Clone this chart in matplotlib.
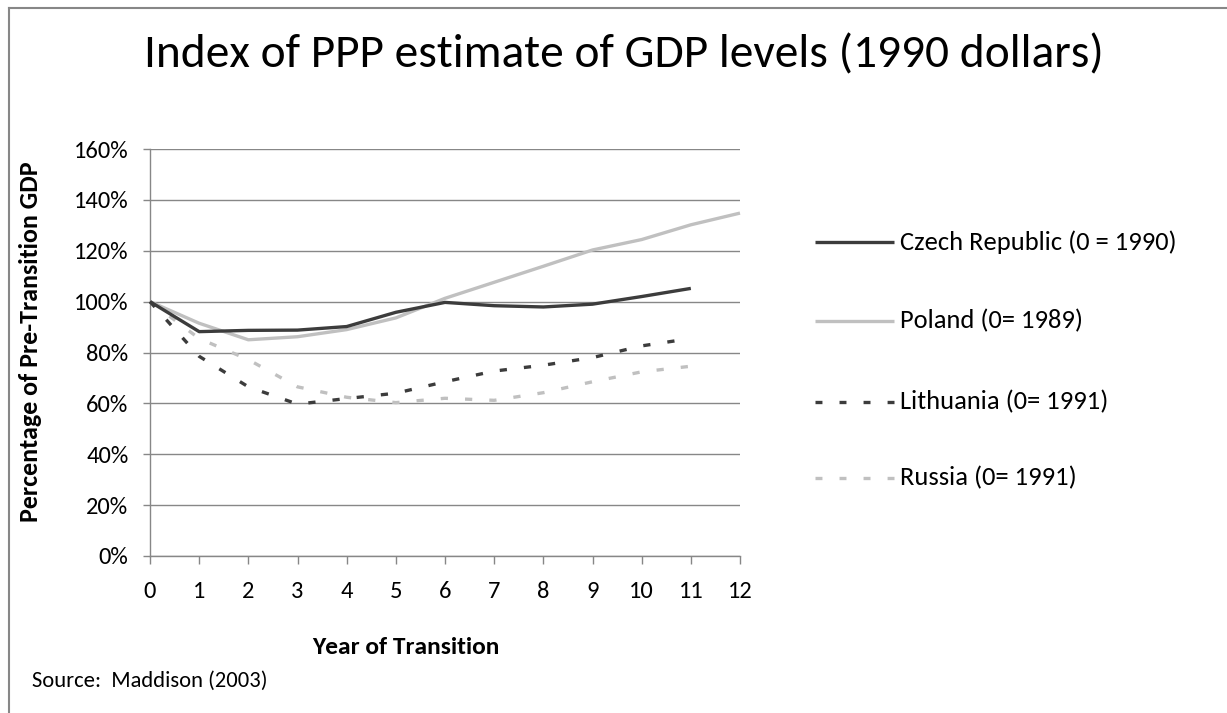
import matplotlib
matplotlib.use('Agg')
import matplotlib.pyplot as plt
from matplotlib import font_manager
from matplotlib.lines import Line2D
from matplotlib.ticker import FuncFormatter

# ---------------- data ----------------
years_czech = list(range(0, 12))
czech = [100, 88.2, 88.7, 88.8, 90.2, 95.8, 99.7, 98.4, 97.9, 99.0, 102.0, 105.2]

years_poland = list(range(0, 13))
poland = [100, 91.5, 85.0, 86.2, 89.0, 93.6, 101.3, 107.6, 113.9, 120.3, 124.4, 130.2, 134.8]

years_lith = list(range(0, 12))
lithuania = [100, 78.5, 66.5, 59.7, 61.9, 64.0, 68.5, 72.7, 75.0, 78.0, 82.6, 85.5]

years_russia = list(range(0, 12))
russia = [100, 85.5, 77.2, 66.5, 62.4, 60.3, 62.0, 61.2, 64.2, 68.5, 72.4, 74.6]

labels = ["Czech Republic (0 = 1990)", "Poland (0= 1989)",
          "Lithuania (0= 1991)", "Russia (0= 1991)"]
x_ticks = list(range(0, 13))
y_ticks = list(range(0, 161, 20))

title = "Index of PPP estimate of GDP levels (1990 dollars)"
xlabel = "Year of Transition"
ylabel = "Percentage of Pre-Transition GDP"
source = "Source:  Maddison (2003)"

# ---------------- style ----------------
DARK = '#3c3c3c'
LIGHT = '#c0c0c0'
GRID = '#878787'

avail = {f.name for f in font_manager.fontManager.ttflist}
FONT = 'Carlito' if 'Carlito' in avail else 'Lato'
plt.rcParams['font.family'] = [FONT, 'DejaVu Sans']
plt.rcParams['lines.scale_dashes'] = False

W, H = 1227, 713
fig = plt.figure(figsize=(W / 100, H / 100), dpi=100)
renderer = fig.canvas.get_renderer()


def fx(x):
    return x / W


def fy(y):
    return 1 - y / H


def fit_size(s, target_w, weight='normal', base=20.0):
    t = fig.text(0, 0, s, fontsize=base, fontweight=weight)
    w = t.get_window_extent(renderer).width
    t.remove()
    return base * target_w / w


# plot area: x 150..740 px, y 149..556 px
ax = fig.add_axes([fx(150), fy(556), (740 - 150) / W, (556 - 149) / H])
ax.set_xlim(0, 12)
ax.set_ylim(0, 160)

lw = 2.4
dash = (0, (5.2, 12.3))
ax.plot(years_czech, czech, color=DARK, lw=lw, solid_capstyle='butt', clip_on=False, zorder=4)
ax.plot(years_poland, poland, color=LIGHT, lw=lw, solid_capstyle='butt', clip_on=False, zorder=3)
ax.plot(years_lith, lithuania, color=DARK, lw=lw, linestyle=dash, dash_capstyle='butt', clip_on=False, zorder=4)
ax.plot(years_russia, russia, color=LIGHT, lw=lw, linestyle=dash, dash_capstyle='butt', clip_on=False, zorder=3)

ax.set_xticks(x_ticks)
ax.set_yticks(y_ticks)
ax.yaxis.set_major_formatter(FuncFormatter(lambda v, p: f"{v:.0f}%"))
ax.grid(axis='y', color=GRID, lw=1.0)
ax.set_axisbelow(True)
for s in ['top', 'right']:
    ax.spines[s].set_visible(False)
for s in ['left', 'bottom']:
    ax.spines[s].set_color(GRID)
    ax.spines[s].set_linewidth(1.0)

tick_fs = fit_size("160%", 57)
tick_fs_x = fit_size("12", 24)
tick_fs = (tick_fs + tick_fs_x) / 2
ax.tick_params(axis='x', direction='out', length=6, width=1.0, color=GRID,
               labelsize=tick_fs, pad=12, labelcolor='black')
ax.tick_params(axis='y', direction='out', length=5, width=1.0, color=GRID,
               labelsize=tick_fs, pad=10.5, labelcolor='black')

# axis labels
xl_fs = fit_size(xlabel, 188, weight='bold')
ax.set_xlabel(xlabel, fontsize=xl_fs, fontweight='bold')
ax.xaxis.set_label_coords((406 - 150) / 590, (556 - 647) / 407)
ax.xaxis.label.set_va('center')

yl_fs = fit_size(ylabel, 361, weight='bold')
ax.set_ylabel(ylabel, fontsize=yl_fs, fontweight='bold')
ax.yaxis.set_label_coords((31 - 150) / 590, (556 - 342) / 407)
ax.yaxis.label.set_va('center')
ax.yaxis.label.set_ha('center')

# title
t_fs = fit_size(title, 960)
fig.text(fx(144), fy(67), title, fontsize=t_fs, ha='left', va='baseline')

# source
s_fs = fit_size(source, 235)
fig.text(fx(32), fy(681), source, fontsize=s_fs, ha='left', va='center')

# legend (manual)
leg_fs = fit_size(labels[0], 276)
leg_y = [242, 321, 402, 478]
styles = [dict(color=DARK), dict(color=LIGHT),
          dict(color=DARK, linestyle=(0, (5.0, 12.3))),
          dict(color=LIGHT, linestyle=(0, (5.0, 12.3)))]
for lab, yy, st in zip(labels, leg_y, styles):
    fig.add_artist(Line2D([fx(815), fx(894)], [fy(yy), fy(yy)], lw=lw,
                          solid_capstyle='butt', dash_capstyle='butt', **st))
    fig.text(fx(900), fy(yy), lab, fontsize=leg_fs, ha='left', va='center')

# chart-area border (top & left visible)
fig.add_artist(Line2D([fx(8.5), fx(1227)], [fy(7.5), fy(7.5)], color=GRID, lw=1.5))
fig.add_artist(Line2D([fx(8.5), fx(8.5)], [fy(7.5), fy(713)], color=GRID, lw=1.5))

fig.savefig('out.png', dpi=100)
